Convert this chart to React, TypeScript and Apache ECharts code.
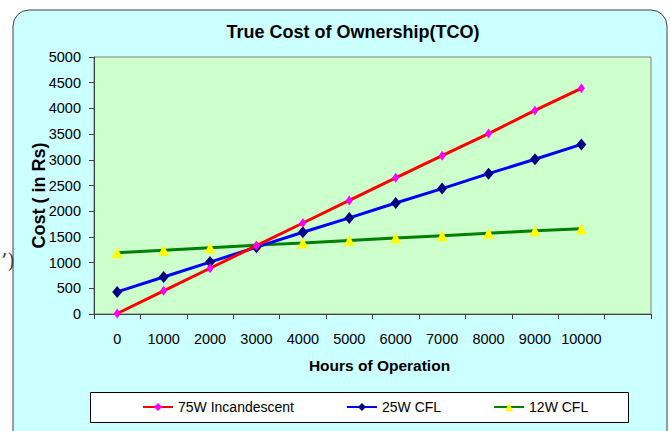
import React, { useEffect, useRef } from "react";
import * as echarts from "echarts";

const categories = ["0", "1000", "2000", "3000", "4000", "5000", "6000", "7000", "8000", "9000", "10000", ""];
const incandescent75W = [10, 450, 890, 1330, 1770, 2210, 2650, 3080, 3510, 3960, 4390];
const cfl25W = [430, 720, 1010, 1300, 1590, 1870, 2160, 2440, 2730, 3010, 3300];
const cfl12W = [1190, 1240, 1290, 1340, 1380, 1430, 1480, 1520, 1570, 1620, 1660];
const seriesNames = ["75W Incandescent", "25W CFL", "12W CFL"];
const yMin = 0;
const yMax = 5000;
const yInterval = 500;

const SANS = "'Liberation Sans', Arial, sans-serif";

export default function App() {
  const ref = useRef<HTMLDivElement>(null);
  useEffect(() => {
    if (!ref.current) return;
    const chart = echarts.init(ref.current, undefined, { renderer: "svg" });
    chart.setOption({
      animation: false,
      backgroundColor: "#ffffff",
      title: {
        text: "True Cost of Ownership(TCO)",
        left: 348,
        top: 18,
        textAlign: "center",
        textStyle: { fontFamily: SANS, fontSize: 18, fontWeight: "bold", color: "#000" },
      },
      graphic: [
        {
          type: "rect",
          z: -10,
          shape: { x: 13, y: 10, width: 654, height: 440, r: 16 },
          style: { fill: "#ccffff", stroke: "#404040", lineWidth: 1 },
          silent: true,
        },
        {
          type: "rect",
          z: 1,
          shape: { x: 90.5, y: 392.5, width: 538, height: 30 },
          style: { fill: "#ffffff", stroke: "#000000", lineWidth: 1 },
          silent: true,
        },
        {
          type: "text",
          x: 1,
          y: 251,
          style: { text: "\u2019)", font: "20px 'DejaVu Serif', serif", fill: "#444", textAlign: "left" },
          silent: true,
        },
      ],
      legend: {
        data: seriesNames,
        left: 142,
        top: 400,
        padding: 0,
        itemWidth: 30,
        itemHeight: 10,
        itemGap: 52,
        textStyle: { fontFamily: SANS, fontSize: 14, color: "#000" },
      },
      grid: {
        left: 94,
        right: 19,
        top: 57,
        bottom: 117,
        show: true,
        backgroundColor: "#ccffcc",
        borderColor: "#808080",
        borderWidth: 1,
      },
      xAxis: {
        type: "category",
        data: categories,
        boundaryGap: true,
        name: "Hours of Operation",
        nameLocation: "middle",
        nameGap: 43,
        nameTextStyle: { fontFamily: SANS, fontSize: 15.5, fontWeight: "bold", color: "#000", padding: [0, 0, 0, 14] },
        axisLine: { lineStyle: { color: "#404040", width: 1 } },
        axisTick: { show: true, length: 5, alignWithLabel: false, lineStyle: { color: "#404040" } },
        axisLabel: { margin: 17, fontFamily: SANS, fontSize: 14.5, color: "#000", interval: 0 },
        splitLine: { show: false },
      },
      yAxis: {
        type: "value",
        min: yMin,
        max: yMax,
        interval: yInterval,
        name: "Cost ( in Rs)",
        nameLocation: "middle",
        nameGap: 46,
        nameMoveOverlap: false,
        nameTextStyle: { fontFamily: SANS, fontSize: 18, fontWeight: "bold", color: "#000", padding: [0, 20, 0, 0] },
        axisLine: { show: true, lineStyle: { color: "#404040", width: 1 } },
        axisTick: { show: true, length: 5, lineStyle: { color: "#404040" } },
        axisLabel: { margin: 13, fontFamily: SANS, fontSize: 14.5, color: "#000", formatter: (v: number) => String(v) },
        splitLine: { show: false },
      },
      series: [
        {
          name: seriesNames[0],
          type: "line",
          data: incandescent75W,
          symbol: "diamond",
          symbolSize: [7, 10],
          lineStyle: { color: "#ff0000", width: 3 },
          itemStyle: { color: "#ff00ff" },
          z: 4,
        },
        {
          name: seriesNames[1],
          type: "line",
          data: cfl25W,
          symbol: "diamond",
          symbolSize: [10, 12],
          lineStyle: { color: "#0000ff", width: 3 },
          itemStyle: { color: "#000080" },
          z: 3,
        },
        {
          name: seriesNames[2],
          type: "line",
          data: cfl12W,
          symbol: "triangle",
          symbolSize: [11, 11],
          lineStyle: { color: "#008000", width: 3 },
          itemStyle: { color: "#ffff00" },
          z: 2,
        },
      ],
    });
    return () => chart.dispose();
  }, []);
  return <div ref={ref} style={{ width: 670, height: 431, position: "absolute", left: 0, top: 0 }} />;
}
